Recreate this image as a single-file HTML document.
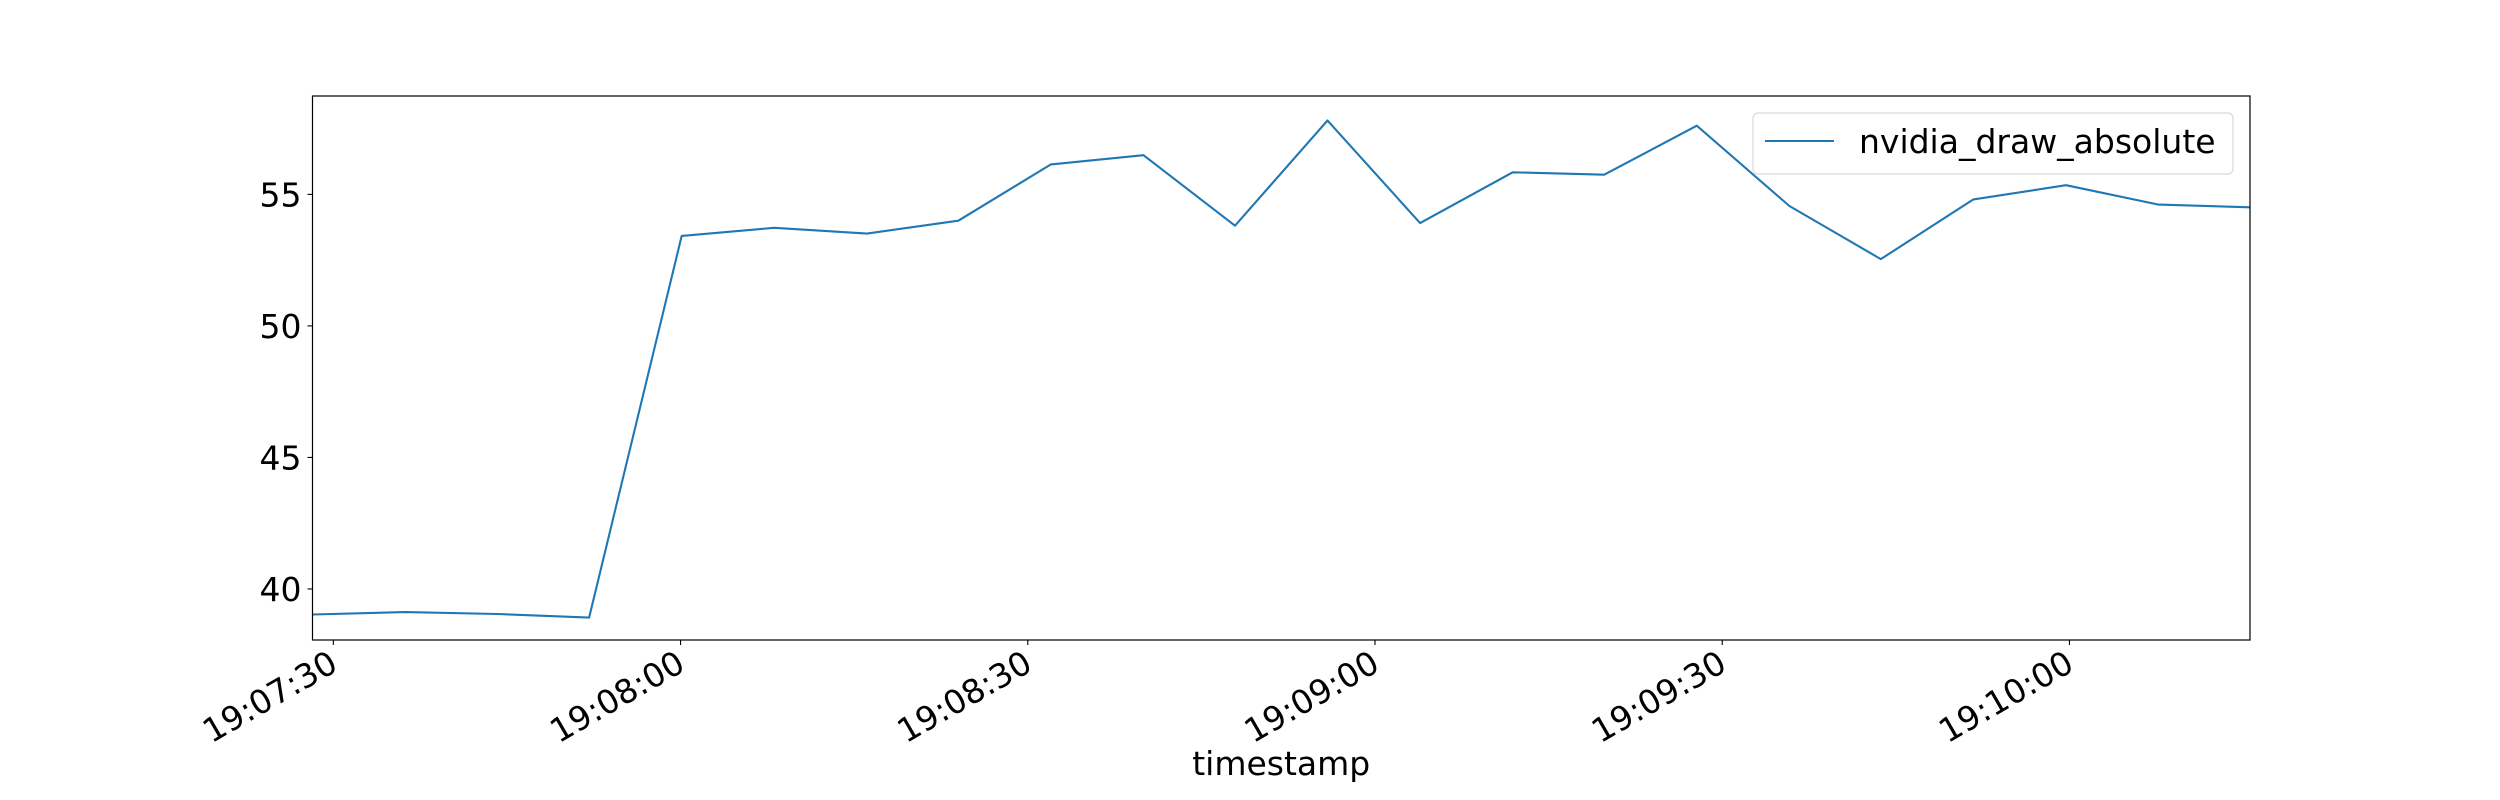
<!DOCTYPE html>
<html><head><meta charset="utf-8"><style>
html,body{margin:0;padding:0;background:#fff;}
svg{display:block;font-family:"DejaVu Sans","Liberation Sans",sans-serif;}
</style></head><body>
<svg id="chart" width="2500" height="800" viewBox="0 0 2500 800">
<rect x="0" y="0" width="2500" height="800" fill="#fff"/>
<g id="plot"></g>
</svg>
<script>
// seconds after 19:07:00
const timestamps = [28.2, 36.2, 44.2, 52.1, 60.1, 68.1, 76.1, 84.0, 92.0, 100.0, 107.9, 115.9, 123.9, 131.9, 139.8, 147.8, 155.8, 163.7, 171.7, 179.7, 187.7, 195.6];
const values = [39.03, 39.12, 39.05, 38.91, 53.42, 53.73, 53.51, 54.0, 56.14, 56.49, 53.81, 57.81, 53.91, 55.84, 55.75, 57.61, 54.56, 52.54, 54.81, 55.35, 54.61, 54.51];
const xTickValues = [30, 60, 90, 120, 150, 180];
const xTickLabels = ["19:07:30", "19:08:00", "19:08:30", "19:09:00", "19:09:30", "19:10:00"];
const yTickValues = [40, 45, 50, 55];
const yTickLabels = ["40", "45", "50", "55"];
const seriesName = "nvidia_draw_absolute";

const NS = "http://www.w3.org/2000/svg";
const L = 312.5, R = 2250, T = 96, B = 640;
const FS = 33;
const xMin = timestamps[0], xMax = timestamps[timestamps.length - 1];
const yMin = 38.06, yMax = 58.74;
const xs = v => L + (v - xMin) / (xMax - xMin) * (R - L);
const ys = v => B - (v - yMin) / (yMax - yMin) * (B - T);
const g = document.getElementById("plot");
function mk(tag, attrs, parent) {
  const e = document.createElementNS(NS, tag);
  for (const k in attrs) e.setAttribute(k, attrs[k]);
  (parent || g).appendChild(e);
  return e;
}

const pts = timestamps.map((t, i) => xs(t).toFixed(1) + "," + ys(values[i]).toFixed(1)).join(" ");
const line = mk("polyline", {points: pts, fill: "none", stroke: "#1f77b4", "stroke-width": "2.1", "stroke-linejoin": "round"});



const frame = mk("rect", {x: L, y: T, width: R - L, height: B - T, fill: "none", stroke: "#000", "stroke-width": "1.2"});



xTickValues.forEach((v, i) => {
  const x = xs(v);
  const tk = mk("line", {x1: x, y1: B, x2: x, y2: B + 5, stroke: "#000", "stroke-width": "1.1"});
  
  
  const tx = mk("text", {x: 0, y: 0, "font-size": FS, "text-anchor": "end", "dominant-baseline": "hanging", transform: `translate(${x - 6},${B + 8}) rotate(-30)`});
  tx.textContent = xTickLabels[i];
  
  
});

yTickValues.forEach((v, i) => {
  const y = ys(v);
  const tk = mk("line", {x1: L - 5, y1: y, x2: L, y2: y, stroke: "#000", "stroke-width": "1.1"});
  
  
  const tx = mk("text", {x: L - 11, y: y + 12, "font-size": FS, "text-anchor": "end"});
  tx.textContent = yTickLabels[i];
  
  
});

const xt = mk("text", {x: (L + R) / 2, y: 775, "font-size": FS, "text-anchor": "middle"});
xt.textContent = "timestamp";



const lg = mk("g", {});


mk("rect", {x: 1753, y: 113, width: 480, height: 61, rx: 5, fill: "#fff", "fill-opacity": "0.8", stroke: "#d9d9d9", "stroke-width": "1.2"}, lg);
const ll = mk("line", {x1: 1765, y1: 141, x2: 1834, y2: 141, stroke: "#1f77b4", "stroke-width": "2.1"}, lg);


const lt = mk("text", {x: 1859, y: 153, "font-size": FS}, lg);
lt.textContent = seriesName;


</script>
</body></html>
